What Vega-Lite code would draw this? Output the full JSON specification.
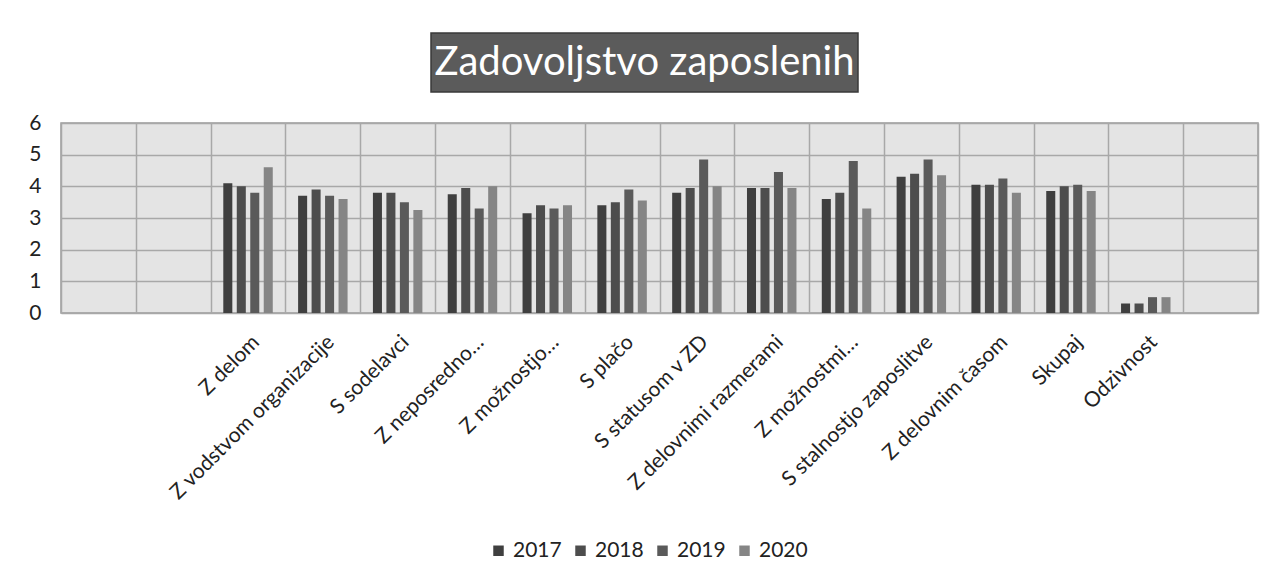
{
  "$schema": "https://vega.github.io/schema/vega-lite/v6.json",
  "background": "white",
  "padding": {"left": 28, "top": 32, "right": 5, "bottom": 5},
  "spacing": 18,
  "config": {"font": "Lato"},
  "vconcat": [
    {
      "spacing": 0,
      "hconcat": [
        {
          "width": 369,
          "height": 59,
          "view": {"stroke": null, "fill": null},
          "data": {"values": [{"t": ""}]},
          "mark": {"type": "text"},
          "encoding": {"text": {"field": "t", "type": "nominal"}}
        },
        {
          "width": 427,
          "height": 59,
          "view": {"fill": "#5b5b5b", "stroke": "#3a3a3a", "strokeWidth": 1.5},
          "data": {"values": [{"t": "Zadovoljstvo zaposlenih"}]},
          "mark": {"type": "text", "font": "Lato", "fontSize": 40, "color": "white", "align": "center", "baseline": "middle"},
          "encoding": {"text": {"field": "t", "type": "nominal"}}
        }
      ]
    },
    {
      "width": 1197,
      "height": 190,
      "view": {"fill": "#e4e4e4", "stroke": "#9a9a9a", "strokeWidth": 1.5},
      "data": {"values": [
        {"cat": "Z delom", "year": "2017", "value": 4.1},
        {"cat": "Z delom", "year": "2018", "value": 4.0},
        {"cat": "Z delom", "year": "2019", "value": 3.8},
        {"cat": "Z delom", "year": "2020", "value": 4.6},
        {"cat": "Z vodstvom organizacije", "year": "2017", "value": 3.7},
        {"cat": "Z vodstvom organizacije", "year": "2018", "value": 3.9},
        {"cat": "Z vodstvom organizacije", "year": "2019", "value": 3.7},
        {"cat": "Z vodstvom organizacije", "year": "2020", "value": 3.6},
        {"cat": "S sodelavci", "year": "2017", "value": 3.8},
        {"cat": "S sodelavci", "year": "2018", "value": 3.8},
        {"cat": "S sodelavci", "year": "2019", "value": 3.5},
        {"cat": "S sodelavci", "year": "2020", "value": 3.25},
        {"cat": "Z neposredno…", "year": "2017", "value": 3.75},
        {"cat": "Z neposredno…", "year": "2018", "value": 3.95},
        {"cat": "Z neposredno…", "year": "2019", "value": 3.3},
        {"cat": "Z neposredno…", "year": "2020", "value": 4.0},
        {"cat": "Z možnostjo…", "year": "2017", "value": 3.15},
        {"cat": "Z možnostjo…", "year": "2018", "value": 3.4},
        {"cat": "Z možnostjo…", "year": "2019", "value": 3.3},
        {"cat": "Z možnostjo…", "year": "2020", "value": 3.4},
        {"cat": "S plačo", "year": "2017", "value": 3.4},
        {"cat": "S plačo", "year": "2018", "value": 3.5},
        {"cat": "S plačo", "year": "2019", "value": 3.9},
        {"cat": "S plačo", "year": "2020", "value": 3.55},
        {"cat": "S statusom v ZD", "year": "2017", "value": 3.8},
        {"cat": "S statusom v ZD", "year": "2018", "value": 3.95},
        {"cat": "S statusom v ZD", "year": "2019", "value": 4.85},
        {"cat": "S statusom v ZD", "year": "2020", "value": 4.0},
        {"cat": "Z delovnimi razmerami", "year": "2017", "value": 3.95},
        {"cat": "Z delovnimi razmerami", "year": "2018", "value": 3.95},
        {"cat": "Z delovnimi razmerami", "year": "2019", "value": 4.45},
        {"cat": "Z delovnimi razmerami", "year": "2020", "value": 3.95},
        {"cat": "Z možnostmi…", "year": "2017", "value": 3.6},
        {"cat": "Z možnostmi…", "year": "2018", "value": 3.8},
        {"cat": "Z možnostmi…", "year": "2019", "value": 4.8},
        {"cat": "Z možnostmi…", "year": "2020", "value": 3.3},
        {"cat": "S stalnostjo zaposlitve", "year": "2017", "value": 4.3},
        {"cat": "S stalnostjo zaposlitve", "year": "2018", "value": 4.4},
        {"cat": "S stalnostjo zaposlitve", "year": "2019", "value": 4.85},
        {"cat": "S stalnostjo zaposlitve", "year": "2020", "value": 4.35},
        {"cat": "Z delovnim časom", "year": "2017", "value": 4.05},
        {"cat": "Z delovnim časom", "year": "2018", "value": 4.05},
        {"cat": "Z delovnim časom", "year": "2019", "value": 4.25},
        {"cat": "Z delovnim časom", "year": "2020", "value": 3.8},
        {"cat": "Skupaj", "year": "2017", "value": 3.85},
        {"cat": "Skupaj", "year": "2018", "value": 4.0},
        {"cat": "Skupaj", "year": "2019", "value": 4.05},
        {"cat": "Skupaj", "year": "2020", "value": 3.85},
        {"cat": "Odzivnost", "year": "2017", "value": 0.3},
        {"cat": "Odzivnost", "year": "2018", "value": 0.3},
        {"cat": "Odzivnost", "year": "2019", "value": 0.5},
        {"cat": "Odzivnost", "year": "2020", "value": 0.5}
      ]},
      "mark": {"type": "bar"},
      "encoding": {
        "x": {
          "field": "cat",
          "type": "nominal",
          "sort": null,
          "scale": {
            "domain": ["_e1", "_e2", "Z delom", "Z vodstvom organizacije", "S sodelavci", "Z neposredno…", "Z možnostjo…", "S plačo", "S statusom v ZD", "Z delovnimi razmerami", "Z možnostmi…", "S stalnostjo zaposlitve", "Z delovnim časom", "Skupaj", "Odzivnost", "_e3"],
            "paddingInner": 0,
            "paddingOuter": 0
          },
          "axis": {
            "title": null,
            "labelAngle": -45,
            "labelFont": "Lato",
            "labelFontSize": 21,
            "labelColor": "#222222",
            "labelLimit": 400,
            "labelPadding": 18,
            "labelExpr": "(datum.value == '_e1' || datum.value == '_e2' || datum.value == '_e3') ? '' : datum.label",
            "tickBand": "extent",
            "grid": true,
            "gridColor": "#a8a8a8",
            "gridWidth": 1.5,
            "ticks": false,
            "domain": false
          }
        },
        "xOffset": {
          "field": "year",
          "type": "nominal",
          "scale": {"paddingInner": 0.33, "paddingOuter": 0.94}
        },
        "y": {
          "field": "value",
          "type": "quantitative",
          "scale": {"domain": [0, 6], "nice": false},
          "axis": {
            "title": null,
            "values": [0, 1, 2, 3, 4, 5, 6],
            "ticks": false,
            "domain": false,
            "labelFont": "Lato",
            "labelFontSize": 21,
            "labelColor": "#222222",
            "labelPadding": 20,
            "gridColor": "#a8a8a8",
            "gridWidth": 1.5
          }
        },
        "color": {
          "field": "year",
          "type": "nominal",
          "scale": {"domain": ["2017", "2018", "2019", "2020"], "range": ["#3f3f3f", "#4d4d4d", "#5a5a5a", "#858585"]},
          "legend": {
            "orient": "none",
            "legendX": 427,
            "legendY": 507,
            "direction": "horizontal",
            "title": null,
            "symbolType": "square",
            "symbolSize": 110,
            "symbolStrokeWidth": 0,
            "labelFont": "Lato",
            "labelFontSize": 21,
            "labelColor": "#222222",
            "columnPadding": 8
          }
        }
      }
    }
  ]
}
